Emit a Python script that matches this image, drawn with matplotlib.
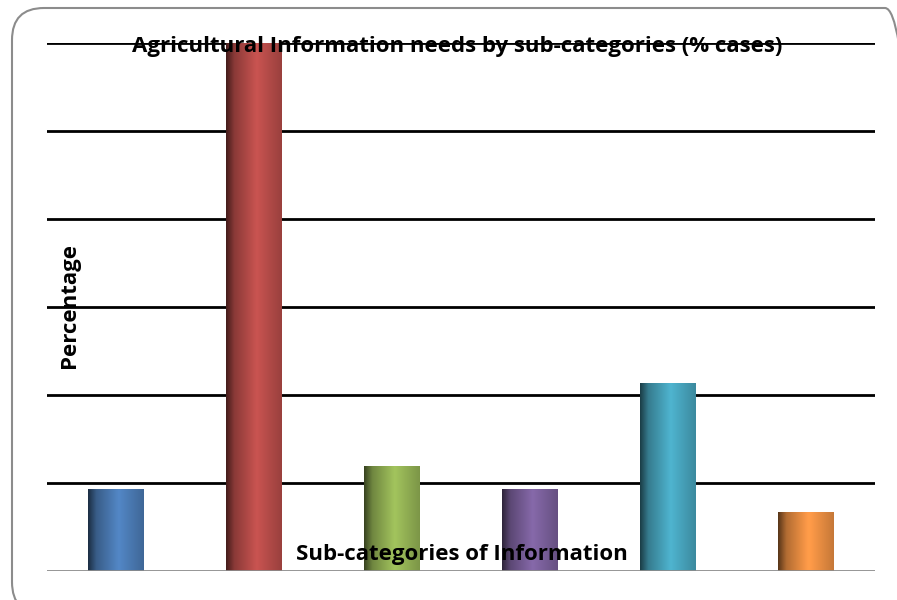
import matplotlib
matplotlib.use('Agg')
import matplotlib.pyplot as plt
import numpy as np
from matplotlib.patches import FancyBboxPatch, Rectangle
from matplotlib.colors import to_rgb

# data (one gridline step = 10)
categories = ['Cat 1', 'Cat 2', 'Cat 3', 'Cat 4', 'Cat 5', 'Cat 6']
values = [9.3, 60.0, 11.9, 9.3, 21.4, 6.7]
colors = ['#4F81BD', '#C0504D', '#9BBB59', '#8064A2', '#4BACC6', '#F79646']

plt.rcParams['font.family'] = ['Open Sans', 'DejaVu Sans']

fig = plt.figure(figsize=(8.97, 6), dpi=100)

# background axes in pixel units (y measured up from the bottom) for the rounded border
bg = fig.add_axes([0, 0, 1, 1])
bg.set_xlim(0, 897)
bg.set_ylim(0, 600)
bg.axis('off')
bg.add_patch(FancyBboxPatch((12, -14), 905, 606, boxstyle='round,pad=0,rounding_size=32',
                            fill=False, edgecolor='#8c8c8c', linewidth=1.5, clip_on=False))

ax = fig.add_axes([47 / 897, 29 / 600, 828 / 897, 528 / 600])
ax.set_xlim(-0.5, len(categories) - 0.5)
ax.set_ylim(0, 60)
for s in ax.spines.values():
    s.set_visible(False)
ax.set_xticks([])
ax.set_yticks([])
ax.patch.set_alpha(0)

for yv in range(10, 61, 10):
    ax.axhline(yv, color='black', linewidth=2, zorder=1)
ax.axhline(0, color='#8c8c8c', linewidth=2, zorder=3)

# cylinder-like shading across each bar
u = np.linspace(0, 1, 200)
shade = np.interp(u, [0, 0.15, 0.55, 0.85, 1], [0.35, 0.72, 1.05, 0.88, 0.8])
w = 0.4
for i, (v, c) in enumerate(zip(values, colors)):
    rgb = np.array(to_rgb(c))
    img = np.empty((1, len(u), 3))
    for k in range(3):
        img[0, :, k] = np.clip(rgb[k] * shade, 0, 1)
    im = ax.imshow(img, extent=[i - w / 2, i + w / 2, 0, v], aspect='auto',
                   zorder=2, interpolation='bilinear')
    rect = Rectangle((i - w / 2, 0), w, v, transform=ax.transData,
                     facecolor='none', edgecolor='none')
    ax.add_patch(rect)
    im.set_clip_path(rect)

ax.set_xlim(-0.5, len(categories) - 0.5)
ax.set_ylim(0, 60)

fig.text(457.5 / 897, 1 - 52 / 600, 'Agricultural Information needs by sub-categories (% cases)',
         ha='center', va='baseline', fontsize=16, fontweight='bold', zorder=5)
fig.text(461.5 / 897, 1 - 560 / 600, 'Sub-categories of Information',
         ha='center', va='baseline', fontsize=16, fontweight='bold', zorder=5)
fig.text(70 / 897, 1 - 306 / 600, 'Percentage', rotation=90,
         ha='center', va='center', fontsize=16, fontweight='bold', zorder=5)

plt.savefig('out.png', dpi=100)
